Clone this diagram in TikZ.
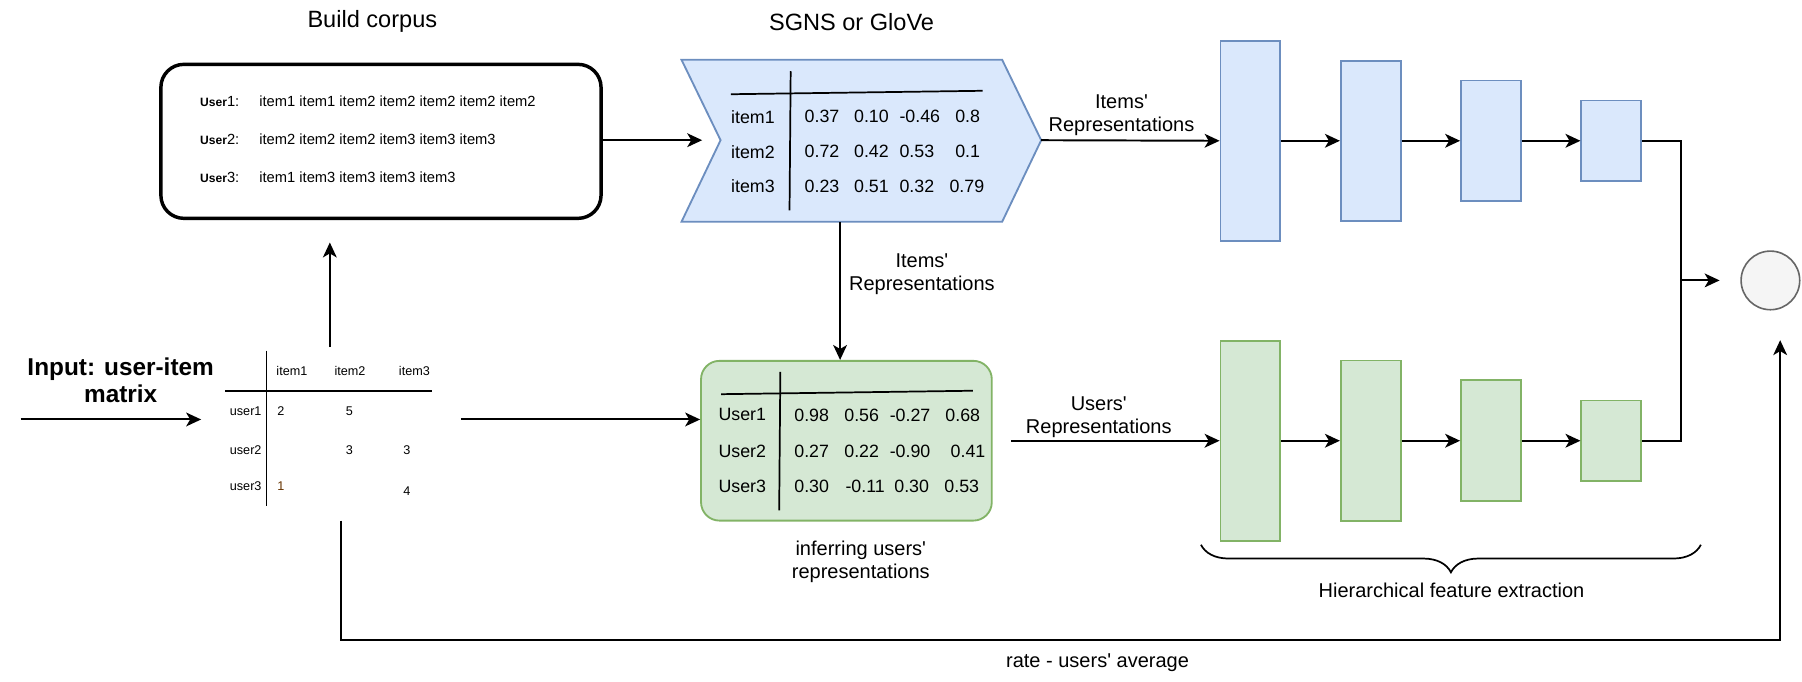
\documentclass[tikz,border=0pt]{standalone}
\usepackage{fontspec}
\setmainfont{Liberation Sans}
\usepackage{xcolor}
\usetikzlibrary{positioning,calc,arrows.meta,decorations.pathreplacing}
\definecolor{bluefill}{HTML}{DAE8FC}
\definecolor{blueedge}{HTML}{6C8EBF}
\definecolor{greenfill}{HTML}{D5E8D4}
\definecolor{greenedge}{HTML}{82B366}
\definecolor{outfill}{HTML}{F5F5F5}
\definecolor{outedge}{HTML}{666666}
\definecolor{rateone}{HTML}{663300}
\tikzset{>={Stealth[length=13pt,width=12pt,inset=3.5pt]}}
\tikzset{
  conn/.style={->, line width=1.7pt},
  wire/.style={line width=1.7pt},
  tabline/.style={line width=1.5pt},
  layerblue/.style={draw=blueedge, fill=bluefill, line width=1.6pt, minimum width=52pt, inner sep=0pt},
  layergreen/.style={draw=greenedge, fill=greenfill, line width=1.6pt, minimum width=52pt, inner sep=0pt},
  ttl/.style={font=\fontsize{20.5}{24}\selectfont, inner sep=0pt},
  captxt/.style={font=\fontsize{17.4}{20}\selectfont, align=center, inner sep=0pt},
  cell/.style={font=\fontsize{15.5}{18}\selectfont, inner sep=0pt, anchor=west},
  mcell/.style={font=\fontsize{11}{13}\selectfont, inner sep=0pt},
  seq/.style={font=\fontsize{12.8}{15}\selectfont, inner sep=0pt, anchor=west},
}
\newcommand{\corpususer}[1]{{\bfseries\fontsize{10.5}{12}\selectfont User}#1:}
\newcommand{\sq}{\textquotesingle}

\begin{document}
\begin{tikzpicture}[x=1pt,y=-1pt]
	\useasboundingbox (0,0) rectangle (1568,593);

	\node[ttl] (ttlcorpus) at (324,19) {Build corpus};
	\node[ttl] (ttlsgns) at (741,19) {SGNS or GloVe};

	% corpus of item sequences
	\node[draw, line width=3pt, rounded corners=20pt, minimum width=383pt, minimum height=134pt] (corpus) at (331.5,123) {};
	\foreach \r/\yy/\txt in {1/88.5/item1 item1 item2 item2 item2 item2 item2, 2/121/item2 item2 item2 item3 item3 item3, 3/154.6/item1 item3 item3 item3 item3} {
		\node[seq] (cu\r) at (174,\yy) {\corpususer{\r}};
		\node[seq] (cs\r) at (225.5,\yy) {\txt};
	}

	% SGNS / GloVe block
	\draw[draw=blueedge, fill=bluefill, line width=1.6pt] (593,52) -- (872,52) -- (906,122) -- (872,193) -- (593,193) -- (627,122) -- cycle;
	\coordinate (sgnsin) at (611,122);
	\coordinate (sgnstip) at (906,122);
	\coordinate (sgnsbot) at (731,193);
	\draw[tabline] (636,82) -- (855,79);
	\draw[tabline] (688,62) -- (687,183);
	\foreach \r/\yy in {1/101.5, 2/132, 3/162}
		\node[cell] (it\r) at (636,\yy) {item\r};
	\foreach \nm/\xx/\yy/\val in {a1/700/101.5/0.37, b1/743/101.5/0.10, c1/782.5/101.5/-0.46, d1/831/101.5/0.8,
		a2/700/132/0.72, b2/743/132/0.42, c2/782.5/132/0.53, d2/831/132/0.1,
		a3/700/162/0.23, b3/743/162/0.51, c3/782.5/162/0.32, d3/826/162/0.79}
		\node[cell] (iv\nm) at (\xx,\yy) {\val};

	% users' representations
	\node[draw=greenedge, fill=greenfill, line width=1.6pt, rounded corners=16pt, minimum width=253pt, minimum height=139pt] (usr) at (736.5,383.5) {};
	\draw[tabline] (627.5,343) -- (846.5,340);
	\draw[tabline] (679,323.5) -- (678,444);
	\foreach \r/\yy in {1/361, 2/392.5, 3/423}
		\node[cell] (ur\r) at (625,\yy) {User\r};
	\foreach \nm/\xx/\yy/\val in {a1/691/361/0.98, b1/734.5/361/0.56, c1/774/361/-0.27, d1/822.5/361/0.68,
		a2/691/392.5/0.27, b2/734.5/392.5/0.22, c2/774/392.5/-0.90, d2/827/392.5/0.41,
		a3/691/423/0.30, b3/735.5/423/-0.11, c3/778/423/0.30, d3/821.6/423/0.53}
		\node[cell] (uv\nm) at (\xx,\yy) {\val};
	\node[captxt] (infer) at (749,489) {inferring users\sq\\representations};

	% input matrix
	\node[font=\bfseries\fontsize{21.2}{23.5}\selectfont, align=center, inner sep=0pt] (input) at (105,331) {Input: user-item\\matrix};
	\draw[tabline] (232,305) -- (232,440);
	\draw[tabline] (196,340) -- (376,340);
	\foreach \c/\xx in {1/254, 2/304.6, 3/360.6}
		\node[mcell] (mh\c) at (\xx,323) {item\c};
	\foreach \r/\yy in {1/357.7, 2/391.6, 3/422.7}
		\node[mcell] (mr\r) at (213.8,\yy) {user\r};
	\node[mcell] (m11) at (244.5,357.7) {2};
	\node[mcell] (m12) at (304,357.7) {5};
	\node[mcell] (m22) at (304,391.6) {3};
	\node[mcell] (m23) at (354,391.6) {3};
	\node[mcell, text=rateone] (m31) at (244.5,422.7) {1};
	\node[mcell] (m33) at (354,427.3) {4};
	\coordinate (inleft) at (18,365);
	\coordinate (matin) at (175,365);
	\coordinate (matout) at (401,365);
	\coordinate (matup) at (287,302);
	\coordinate (corpin) at (287,211);
	\coordinate (matdn) at (297,453);

	% layers
	\foreach \n/\cx/\h in {1/1088/174pt, 2/1192.7/139.5pt, 3/1297.3/105pt, 4/1402/70pt} {
		\node[layerblue, minimum height=\h] (b\n) at (\cx,122.5) {};
		\node[layergreen, minimum height=\h] (g\n) at (\cx,383.5) {};
	}
	\node[circle, draw=outedge, fill=outfill, line width=1.4pt, minimum size=51pt, inner sep=0pt] (out) at (1540.5,244) {};
	\coordinate (mrg) at (1463,244);
	\coordinate (fbc) at (1549,557);
	\coordinate (outin) at (1549,296);
	\coordinate (usrout) at (880,383.5);

	% connectors
	\draw[conn] (inleft) -- (matin);
	\draw[conn] (matup) -- (corpin);
	\draw[conn] (corpus.east |- sgnsin) -- (sgnsin);
	\draw[conn] (sgnstip) -- (b1.west) node[captxt, pos=0.45, above=3pt] (itrepa) {Items\sq\\Representations};
	\draw[conn] (sgnsbot) -- (sgnsbot |- usr.north) node[captxt, pos=0.38, right=7pt] (itrepb) {Items\sq\\Representations};
	\draw[conn] (matout) -- (matout -| usr.west);
	\draw[conn] (usrout) -- (g1.west) node[captxt, pos=0.42, above=2pt] (usrep) {Users\sq\\Representations};
	\foreach \i/\j in {1/2, 2/3, 3/4} {
		\draw[conn] (b\i.east) -- (b\j.west);
		\draw[conn] (g\i.east) -- (g\j.west);
	}
	\draw[wire] (b4.east) -| (mrg) |- (g4.east);
	\draw[conn] (mrg) -- ([xshift=-18pt]out.west);
	\draw[conn] (matdn) |- (fbc) -- (outin);
	\node[captxt] (rate) at (955,577) {rate - users\sq\ average};

	% hierarchy brace
	\draw[line width=1.5pt, decorate, decoration={brace, mirror, amplitude=24pt}] (1045,474) -- (1480,474);
	\node[captxt] (hfe) at (1263,514) {Hierarchical feature extraction};
\end{tikzpicture}
\end{document}
